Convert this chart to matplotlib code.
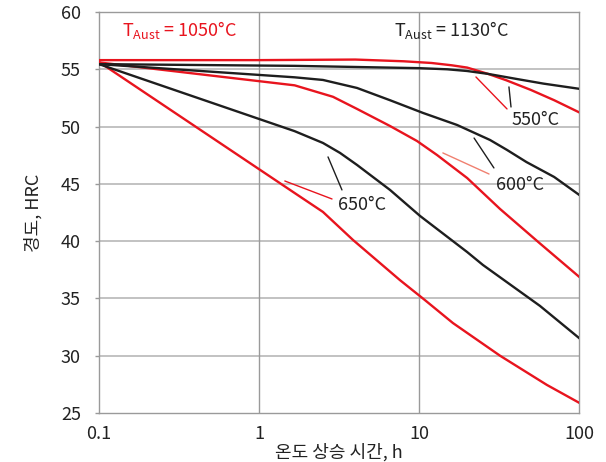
import numpy as np
import matplotlib
matplotlib.use('Agg')
import matplotlib.pyplot as plt
from matplotlib.ticker import FixedLocator, FixedFormatter, NullLocator

plt.rcParams['font.family'] = ['Noto Sans CJK KR', 'DejaVu Sans']
plt.rcParams['mathtext.fontset'] = 'custom'
plt.rcParams['mathtext.rm'] = 'Noto Sans CJK KR'
plt.rcParams['mathtext.it'] = 'Noto Sans CJK KR'

# hardness (HRC) vs tempering time (h)
# T_Aust = 1050 C (red)
red_550_t = [0.1, 1, 4, 8, 12, 16, 20, 27, 35, 50, 70, 100]
red_550_h = [55.8, 55.8, 55.85, 55.7, 55.55, 55.35, 55.15, 54.6, 54.05, 53.2, 52.3, 51.25]
red_600_t = [0.1, 1.67, 2.9, 4.1, 6.59, 9.72, 12.96, 20.0, 32.1, 57, 100]
red_600_h = [55.6, 53.6, 52.6, 51.54, 50.05, 48.74, 47.52, 45.51, 42.81, 39.8, 36.9]
red_650_t = [0.1, 1.67, 2.51, 3.87, 7.6, 10.9, 16.3, 32.1, 63, 100]
red_650_h = [55.64, 44.2, 42.55, 40.1, 36.6, 34.85, 32.85, 30.0, 27.45, 25.9]
# T_Aust = 1130 C (black)
blk_550_t = [0.1, 1.67, 10, 15, 20, 27, 41, 60, 100]
blk_550_h = [55.45, 55.3, 55.1, 55.0, 54.85, 54.6, 54.15, 53.75, 53.3]
blk_600_t = [0.1, 1.67, 2.51, 4.1, 6.59, 10.6, 17.3, 27.8, 35.5, 47, 70, 100]
blk_600_h = [55.45, 54.3, 54.07, 53.37, 52.3, 51.19, 50.14, 48.83, 47.96, 46.9, 45.6, 44.05]
blk_650_t = [0.1, 1.67, 2.51, 3.21, 4.1, 6.59, 10.15, 20.0, 25.1, 57, 100]
blk_650_h = [55.45, 49.6, 48.57, 47.7, 46.65, 44.47, 42.2, 39.05, 37.92, 34.35, 31.55]

xticks = [0.1, 1, 10, 100]
xtick_labels = ['0.1', '1', '10', '100']
yticks = [25, 30, 35, 40, 45, 50, 55, 60]

RED = '#e8141e'
BLK = '#1e1e1e'
GRIDC = '#bdbdbd'
FRAME = '#9a9a9a'
TXT = '#222222'
FS = 13

fig = plt.figure(figsize=(6.06, 4.62), dpi=100)
ax = fig.add_axes([0.1634, 0.1061, 0.792, 0.8679])

lw = 1.7
ax.plot(red_550_t, red_550_h, color=RED, lw=lw, zorder=3)
ax.plot(red_600_t, red_600_h, color=RED, lw=lw, zorder=3)
ax.plot(red_650_t, red_650_h, color=RED, lw=lw, zorder=3)
ax.plot(blk_550_t, blk_550_h, color=BLK, lw=lw, zorder=3)
ax.plot(blk_600_t, blk_600_h, color=BLK, lw=lw, zorder=3)
ax.plot(blk_650_t, blk_650_h, color=BLK, lw=lw, zorder=3)

ax.set_xscale('log')
ax.set_xlim(0.1, 100)
ax.set_ylim(25, 60)
ax.xaxis.set_major_locator(FixedLocator(xticks))
ax.xaxis.set_major_formatter(FixedFormatter(xtick_labels))
ax.xaxis.set_minor_locator(NullLocator())
ax.set_yticks(yticks)

for y in yticks[1:-1]:
    ax.axhline(y, color=GRIDC, lw=1.3, zorder=1)
for x in xticks[1:-1]:
    ax.axvline(x, color=FRAME, lw=1.0, zorder=1)
for s in ax.spines.values():
    s.set_color(FRAME)
    s.set_linewidth(1.0)

ax.tick_params(axis='x', length=0, pad=9, labelsize=FS, colors=TXT)
ax.tick_params(axis='y', length=3, width=1.0, color=FRAME, pad=10, labelsize=FS, labelcolor=TXT)

ax.set_xlabel('온도 상승 시간, h', fontsize=FS, color=TXT)
ax.xaxis.label.set_va('center')
ax.xaxis.set_label_coords(0.5, -0.098)
ax.set_ylabel('경도, HRC', fontsize=FS, color=TXT, labelpad=13)

# leader lines and labels
def leader(p0, p1, c, lw=1.0):
    ax.annotate('', xy=p1, xytext=p0, arrowprops=dict(arrowstyle='-', color=c, lw=lw, shrinkA=0, shrinkB=0))

leader((22.7, 54.33), (35.5, 51.54), RED)
leader((36.5, 53.46), (37.6, 51.71), BLK)
ax.text(53.8, 50.58, '550°C', fontsize=FS, color=TXT, ha='center', va='center')

leader((14.1, 47.7), (27.4, 45.86), '#f08070')
leader((22.1, 49.0), (29.4, 46.39), BLK)
ax.text(42.8, 44.9, '600°C', fontsize=FS, color=TXT, ha='center', va='center')

leader((1.45, 45.25), (2.86, 43.68), RED)
leader((2.70, 47.35), (3.30, 44.47), BLK)
ax.text(4.40, 43.16, '650°C', fontsize=FS, color=TXT, ha='center', va='center')

ax.text(0.321, 58.43, r'$\mathrm{T_{Aust}}$ = 1050°C', fontsize=FS, color=RED, ha='center', va='center')
ax.text(16.1, 58.43, r'$\mathrm{T_{Aust}}$ = 1130°C', fontsize=FS, color=TXT, ha='center', va='center')

fig.savefig('out.png', dpi=100)
